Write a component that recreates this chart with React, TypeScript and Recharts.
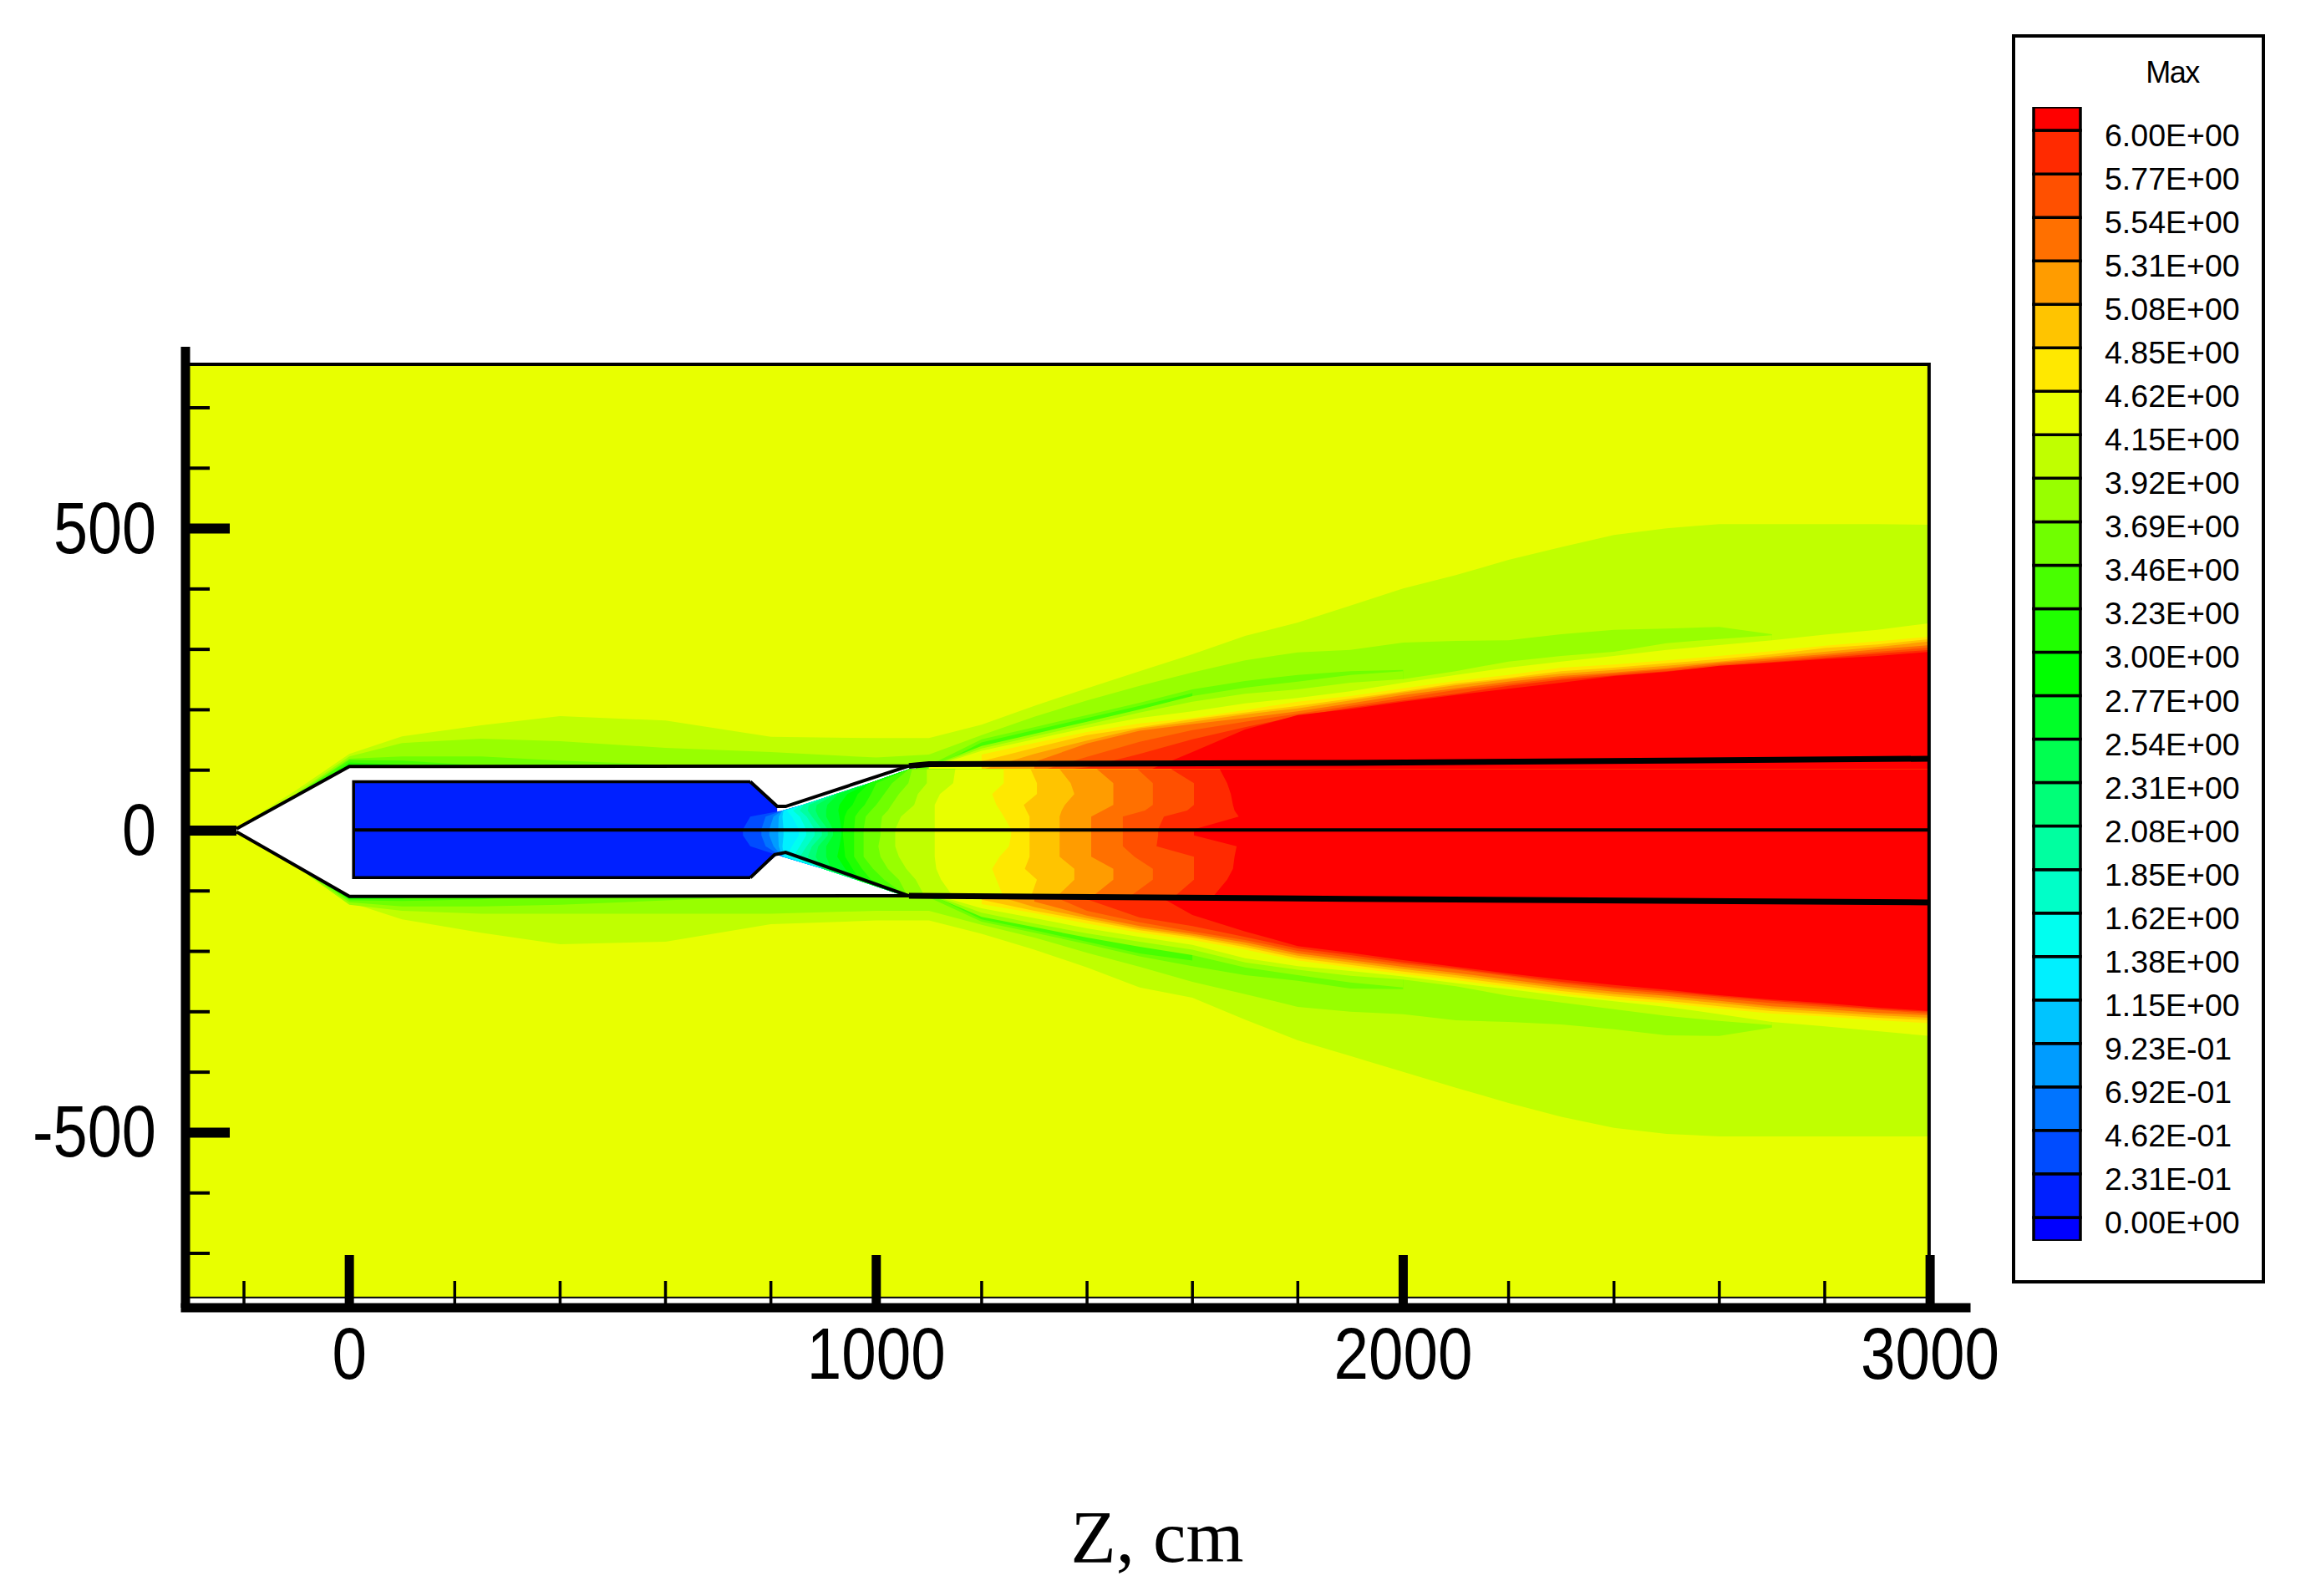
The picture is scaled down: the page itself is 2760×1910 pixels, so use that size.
import { Area, Bar, ComposedChart, Line, XAxis, YAxis } from "recharts";

const FONT = "'Liberation Sans', Arial, sans-serif";
const W = 2760;
const H = 1910;

// axis ticks
const zTicks = [-200, 0, 200, 400, 600, 800, 1000, 1200, 1400, 1600, 1800, 2000, 2200, 2400, 2600, 2800, 3000];
const zMajor = [0, 1000, 2000, 3000];
const rTicks = [700, 600, 500, 400, 300, 200, 100, 0, -100, -200, -300, -400, -500, -600, -700];
const rMajor = [500, 0, -500];

// legend, top to bottom
const levelLabels = [
  "6.00E+00", "5.77E+00", "5.54E+00", "5.31E+00", "5.08E+00", "4.85E+00", "4.62E+00", "4.15E+00", "3.92E+00",
  "3.69E+00", "3.46E+00", "3.23E+00", "3.00E+00", "2.77E+00", "2.54E+00", "2.31E+00", "2.08E+00", "1.85E+00",
  "1.62E+00", "1.38E+00", "1.15E+00", "9.23E-01", "6.92E-01", "4.62E-01", "2.31E-01", "0.00E+00",
];
const levelColors = [
  "#FF0000", "#FF2A00", "#FF5000", "#FF7000", "#FF9C00", "#FFC400", "#FFE800", "#E8FF00", "#C0FF00",
  "#98FF00", "#70FF00", "#48FF00", "#20FF00", "#00FF00", "#00FF28", "#00FF50", "#00FF78", "#00FFA0",
  "#00FFC8", "#00FFF0", "#00F0FF", "#00C4FF", "#009CFF", "#0074FF", "#004CFF", "#0020FF", "#0000FF",
];
const levelSizes = [0.54, ...levelLabels.slice(1).map(() => 1), 0.54];

// stations along the axis, outside the tube
const nearZ = [-200, -100, 0, 100, 250, 400, 600, 800, 1000, 1100, 1200, 1300, 1400, 1500, 1600, 1700, 1800, 1900, 2000, 2100, 2200, 2300, 2400, 2500, 2600, 2700, 2800, 2900, 3000];
const from100 = nearZ.slice(1);
const jetZ = nearZ.slice(9);
const jet1200 = nearZ.slice(10);
const jet1300 = nearZ.slice(11);
const jet1500 = nearZ.slice(13);

// contour edges outside the tube
const c0Up = [12, 67, 126, 155, 173, 188, 181, 154, 152, 152, 174, 205, 234, 262, 290, 320, 342, 370, 398, 420, 445, 466, 486, 497, 504, 504, 504, 504, 503];
const c0Lo = [-4, -56, -118, -146, -168, -187, -183, -154, -148, -148, -170, -196, -225, -258, -275, -311, -345, -371, -397, -423, -448, -471, -489, -499, -503, -503, -503, -503, -503];
const g98Up = [62, 122, 144, 151, 147, 136, 129, 120, 125, 157, 187, 214, 238, 260, 280, 293, 297, 309, 312, 313, 323, 330, 332, 335, 323];
const g98Lo = [-60, -122, -132, -137, -137, -137, -137, -132, -132, -155, -176, -201, -224, -249, -269, -290, -298, -302, -312, -315, -319, -327, -337, -338, -324];
const g70Up = [60, 118, 122, 122, 115, 108, 104, 100, 107, 150, 170, 190, 210, 232, 246, 256, 262, 264];
const g70Lo = [-59, -118, -125, -125, -122, -115, -108, -104, -110, -150, -168, -187, -207, -223, -238, -247, -260, -261];
const g48Up = [59, 116, 115, 107, 100, 100, 100, 100, 100, 145, 165, 185, 205, 226];
const g48Lo = [-58, -115, -116, -113, -104, -104, -104, -104, -104, -146, -164, -183, -202, -214];
const wakeZ = [-60, 0, 100, 180];
const wakeUp = [78, 112, 108, 100];
const wakeLo = [-79, -113, -112, -104];
const in98Up = [105, 139, 159, 179, 199, 221, 235, 245, 256, 262];
const in98Lo = [-105, -142, -159, -176, -191, -205, -225, -238, -250, -258];
const inC0Up = [104, 135, 155, 174, 194, 212, 225, 232, 243, 249, 262, 278, 287, 294, 308, 315, 321];
const inC0Lo = [-104, -135, -153, -169, -183, -196, -217, -229, -239, -245, -256, -272, -283, -294, -305, -313, -320];
const e8Up = [103, 131, 150, 169, 185, 196, 209, 218, 229, 243, 256, 268, 278, 287, 297, 305, 313, 322, 330, 341];
const e8Lo = [-103, -128, -144, -161, -175, -188, -210, -223, -231, -240, -251, -261, -272, -281, -290, -302, -315, -322, -330, -338];
const ffe8Up = [125, 144, 162, 176, 185, 198, 212, 221, 234, 246, 256, 268, 273, 280, 287, 295, 304, 311, 319];
const ffe8Lo = [-121, -136, -153, -168, -180, -196, -214, -225, -236, -246, -257, -268, -278, -284, -293, -301, -306, -312, -317];
const ffc4Up = [114, 136, 157, 170, 183, 194, 205, 217, 229, 242, 251, 262, 268, 275, 282, 290, 300, 306, 315];
const ffc4Lo = [-114, -132, -148, -164, -176, -192, -210, -221, -232, -242, -253, -264, -273, -280, -289, -297, -302, -308, -312];
const ff9cUp = [100, 126, 148, 168, 179, 191, 201, 214, 227, 239, 249, 258, 264, 271, 278, 286, 294, 302, 311];
const ff9cLo = [-100, -126, -144, -161, -173, -188, -206, -217, -228, -238, -249, -260, -269, -276, -284, -293, -298, -304, -308];
const ff70Up = [113, 143, 164, 175, 185, 196, 209, 223, 234, 245, 254, 260, 267, 276, 283, 290, 298, 305];
const ff70Lo = [-117, -140, -157, -170, -184, -202, -213, -224, -234, -245, -256, -265, -272, -280, -289, -294, -300, -304];
const ff50Up = [95, 121, 146, 165, 179, 192, 205, 218, 231, 241, 251, 258, 265, 273, 280, 287, 294, 301];
const ff50Lo = [-95, -132, -151, -166, -180, -198, -209, -220, -229, -240, -252, -261, -268, -276, -284, -290, -295, -301];
const ff2aUp = [95, 104, 126, 150, 170, 188, 202, 214, 225, 238, 248, 255, 262, 270, 277, 284, 291, 297];
const ff2aLo = [-95, -113, -143, -157, -175, -194, -205, -217, -227, -238, -249, -258, -265, -273, -280, -287, -294, -298];
const ff00Up = [93, 129, 166, 190, 200, 212, 223, 233, 243, 254, 261, 271, 276, 282, 287, 294];
const ff00Lo = [-90, -139, -166, -190, -201, -213, -224, -235, -245, -254, -262, -271, -278, -284, -291, -297];

// solid parts
const bodyZ = [-214, 0, 1075];
const bodyUp = [3, 105, 105];
const bodyLo = [-2, -108, -108];
const chamberZ = [8, 761, 812];
const chamberUp = [80, 80, 40];
const chamberLo = [-77, -77, -40];

// contours inside the tube: where each colour starts, for each radius
const coreR = [107, 78, 60, 40, 23, 5, -5, -26, -36, -45, -63, -81, -104];
const coreStarts: [string, number[]][] = [
  ["#004CFF", [1062, 962, 899, 822, 761, 747, 747, 761, 822, 860, 923, 987, 1062]],
  ["#0074FF", [1062, 962, 899, 822, 790, 782, 782, 790, 822, 860, 923, 987, 1062]],
  ["#009CFF", [1062, 962, 899, 822, 805, 797, 797, 805, 822, 860, 923, 987, 1062]],
  ["#00C4FF", [1062, 962, 899, 822, 815, 814, 814, 815, 822, 860, 923, 987, 1062]],
  ["#00F0FF", [1062, 962, 899, 824, 822, 824, 824, 822, 824, 860, 923, 987, 1062]],
  ["#00FFF0", [1062, 962, 899, 830, 840, 853, 853, 840, 830, 860, 923, 987, 1062]],
  ["#00FFC8", [1062, 962, 899, 842, 855, 867, 867, 855, 842, 860, 923, 987, 1062]],
  ["#00FFA0", [1062, 962, 899, 855, 868, 883, 883, 868, 855, 862, 923, 987, 1062]],
  ["#00FF78", [1062, 962, 899, 870, 878, 897, 897, 878, 870, 872, 923, 987, 1062]],
  ["#00FF50", [1062, 962, 899, 885, 890, 908, 908, 890, 885, 887, 923, 987, 1062]],
  ["#00FF28", [1062, 962, 915, 905, 905, 918, 918, 905, 905, 907, 928, 987, 1062]],
  ["#00FF00", [1062, 962, 941, 926, 930, 934, 934, 930, 928, 930, 945, 987, 1062]],
  ["#20FF00", [1062, 969, 955, 941, 939, 937, 937, 940, 945, 955, 965, 987, 1062]],
  ["#48FF00", [1062, 990, 973, 958, 958, 958, 958, 960, 968, 978, 990, 1000, 1062]],
  ["#70FF00", [1062, 1015, 994, 976, 976, 976, 976, 980, 990, 1000, 1015, 1030, 1062]],
  ["#98FF00", [1061, 1043, 1022, 1008, 1004, 1008, 1008, 1011, 1022, 1029, 1043, 1061, 1068]],
  ["#C0FF00", [1093, 1075, 1057, 1043, 1036, 1036, 1036, 1047, 1060, 1072, 1079, 1096, 1096]],
  ["#E8FF00", [1147, 1123, 1114, 1111, 1111, 1111, 1111, 1111, 1111, 1111, 1121, 1146, 1150]],
  ["#FFE800", [1242, 1228, 1220, 1234, 1252, 1256, 1256, 1242, 1235, 1228, 1220, 1242, 1242]],
  ["#FFC400", [1293, 1305, 1282, 1291, 1291, 1291, 1291, 1291, 1285, 1280, 1305, 1305, 1293]],
  ["#FF9C00", [1341, 1376, 1376, 1348, 1348, 1348, 1348, 1348, 1352, 1358, 1376, 1369, 1348]],
  ["#FF7000", [1408, 1450, 1450, 1408, 1408, 1408, 1408, 1408, 1430, 1450, 1450, 1450, 1419]],
  ["#FF5000", [1479, 1525, 1525, 1490, 1468, 1468, 1468, 1468, 1510, 1525, 1525, 1525, 1496]],
  ["#FF2A00", [1564, 1603, 1603, 1603, 1532, 1535, 1535, 1546, 1590, 1603, 1603, 1603, 1560]],
  ["#FF0000", [1638, 1666, 1677, 1680, 1684, 1603, 1603, 1688, 1680, 1677, 1673, 1666, 1652]],
];

// outlines
const outlines: { z: number[]; r: number[]; w: number }[] = [
  { z: [-214, 0, 1062], r: [3, 106, 107], w: 4 },
  { z: [-214, 0, 1062], r: [-2, -109, -108], w: 4 },
  { z: [761, 812, 828, 1062], r: [81, 40, 40, 107], w: 4 },
  { z: [761, 807, 828, 1062], r: [-78, -40, -36, -108], w: 4 },
  { z: [1062, 1100, 1900, 2998], r: [107, 110, 112, 119], w: 7 },
  { z: [1062, 1900, 2998], r: [-108, -113, -119], w: 7 },
  { z: [8, 2998], r: [1, 1], w: 4 },
  { z: [761, 8, 8, 761], r: [81, 81, -78, -78], w: 3.5 },
  { z: [-311, 2998, 2998], r: [772, 772, -773], w: 4 },
  { z: [-311, 2998], r: [-773, -773], w: 2 },
];

const band = (zs: number[], up: number[], lo: number[]) =>
  up.map((u, i) => ({ z: zs[i], range: [lo[i], u] }));

const outerBands = [
  { color: "#E8FF00", data: band([-311, 3000], [764, 764], [-767, -767]) },
  { color: "#C0FF00", data: band(nearZ, c0Up, c0Lo) },
  { color: "#98FF00", data: band(from100, g98Up, g98Lo) },
  { color: "#70FF00", data: band(from100, g70Up, g70Lo) },
  { color: "#48FF00", data: band(from100, g48Up, g48Lo) },
  { color: "#20FF00", data: band(wakeZ, wakeUp, wakeLo) },
  { color: "#98FF00", data: band(jetZ, in98Up, in98Lo) },
  { color: "#C0FF00", data: band(jetZ, inC0Up, inC0Lo) },
  { color: "#E8FF00", data: band(jetZ, e8Up, e8Lo) },
  { color: "#FFE800", data: band(jet1200, ffe8Up, ffe8Lo) },
  { color: "#FFC400", data: band(jet1200, ffc4Up, ffc4Lo) },
  { color: "#FF9C00", data: band(jet1200, ff9cUp, ff9cLo) },
  { color: "#FF7000", data: band(jet1300, ff70Up, ff70Lo) },
  { color: "#FF5000", data: band(jet1300, ff50Up, ff50Lo) },
  { color: "#FF2A00", data: band(jet1300, ff2aUp, ff2aLo) },
  { color: "#FF0000", data: band(jet1500, ff00Up, ff00Lo) },
  { color: "#FFFFFF", data: band(bodyZ, bodyUp, bodyLo) },
  { color: "#0020FF", data: band(chamberZ, chamberUp, chamberLo) },
];

const coreTable = coreR.map((r, i) => {
  const row: any = { r };
  coreStarts.forEach(([, starts], k) => {
    row[`c${k}`] = [starts[i], 3000];
  });
  return row;
});

const legendRow: any = { name: "levels" };
levelSizes.forEach((s, i) => {
  legendRow[`b${i}`] = s;
});
const legendBars = levelColors.map((c, i) => ({ key: `b${i}`, color: levelColors[levelColors.length - 1 - i] }));
const legendTicks = levelLabels.map((_, i) => 0.54 + i);
const bottomUpLabels = [...levelLabels].reverse();

const stack: any = { position: "absolute", left: 0, top: 0 };
const plotMargin = { left: 222, top: 438, right: W - 2310, bottom: H - 1552 };
// axes keep 1px of room, so the margins are 1px smaller
const frameMargin = { left: 221, top: 415, right: W - 2353, bottom: H - 1565 - 1 };

const ZTick = ({ x, y, payload }: any) => {
  const major = zMajor.includes(payload.value);
  const s = String(payload.value);
  return (
    <g>
      <line x1={x} x2={x} y1={y} y2={y - (major ? 63 : 32)} stroke="#000" strokeWidth={major ? 11 : 3.5} />
      {major && (
        <text x={x} y={y + 85} textAnchor="middle" fontFamily={FONT} fontSize={88} fill="#000"
          textLength={s.length * 41.5} lengthAdjust="spacingAndGlyphs">
          {s}
        </text>
      )}
    </g>
  );
};

const RTick = ({ x, y, payload }: any) => {
  const major = rMajor.includes(payload.value);
  const s = String(payload.value);
  const len = payload.value === 0 ? 61 : major ? 53 : 29;
  return (
    <g>
      <line x1={x} x2={x + len} y1={y} y2={y} stroke="#000" strokeWidth={major ? 12 : 4} />
      {major && (
        <text x={187} y={y + 29} textAnchor="end" fontFamily={FONT} fontSize={88} fill="#000"
          textLength={s.replace("-", "").length * 41 + (s.startsWith("-") ? 25 : 0)} lengthAdjust="spacingAndGlyphs">
          {s}
        </text>
      )}
    </g>
  );
};

const LegendTick = ({ y, index }: any) => (
  <text x={2519} y={y + 19} fontFamily={FONT} fontSize={37.5} fill="#000">
    {bottomUpLabels[index]}
  </text>
);

const AxisTitle = () => (
  <text x={1385} y={1869} textAnchor="middle" fontFamily="'Liberation Serif', serif" fontSize={88} fill="#000"
    textLength={207} lengthAdjust="spacingAndGlyphs">
    Z, cm
  </text>
);

export default function App() {
  return (
    <div style={{ position: "relative", width: W, height: H, margin: -8, background: "#fff", overflow: "hidden" }}>
      {/* field outside the tube */}
      <ComposedChart width={W} height={H} margin={plotMargin} style={stack}>
        <XAxis hide type="number" dataKey="z" domain={[-311, 3000]} allowDataOverflow />
        <YAxis hide type="number" domain={[-767, 764]} allowDataOverflow />
        {outerBands.map((b, i) => (
          <Area key={i} data={b.data} dataKey="range" type="linear" fill={b.color} fillOpacity={1} stroke="none" isAnimationActive={false} />
        ))}
      </ComposedChart>

      {/* field inside the tube, contours run across the axis */}
      <ComposedChart width={W} height={H} margin={plotMargin} layout="vertical" data={coreTable} style={stack}>
        <XAxis hide type="number" domain={[-311, 3000]} allowDataOverflow />
        <YAxis hide type="number" dataKey="r" domain={[-767, 764]} allowDataOverflow />
        {coreStarts.map(([color], k) => (
          <Area key={k} dataKey={`c${k}`} type="linear" fill={color} fillOpacity={1} stroke="none" isAnimationActive={false} />
        ))}
      </ComposedChart>

      {/* outlines and axes */}
      <ComposedChart width={W} height={H} margin={frameMargin} style={stack}>
        <XAxis
          type="number"
          dataKey="z"
          domain={[-311, 3068]}
          allowDataOverflow
          ticks={zTicks}
          interval={0}
          height={1}
          tickSize={0}
          tickMargin={0}
          tickLine={false}
          axisLine={{ stroke: "#000", strokeWidth: 11, strokeLinecap: "square" }}
          tick={(p: any) => <ZTick {...p} />}
          label={{ content: () => <AxisTitle /> }}
        />
        <YAxis
          type="number"
          domain={[-790, 801]}
          allowDataOverflow
          ticks={rTicks}
          interval={0}
          width={1}
          tickSize={0}
          tickMargin={0}
          tickLine={false}
          axisLine={{ stroke: "#000", strokeWidth: 11 }}
          tick={(p: any) => <RTick {...p} />}
        />
        {outlines.map((o, i) => (
          <Line
            key={i}
            data={o.z.map((z, j) => ({ z, r: o.r[j] }))}
            dataKey="r"
            type="linear"
            stroke="#000"
            strokeWidth={o.w}
            dot={false}
            isAnimationActive={false}
          />
        ))}
      </ComposedChart>

      {/* legend */}
      <div style={{ position: "absolute", left: 2408, top: 41, width: 295, height: 1487, border: "4px solid #000" }} />
      <div style={{ position: "absolute", left: 2500, width: 200, top: 65, textAlign: "center", fontFamily: FONT, fontSize: 36, lineHeight: "44px", letterSpacing: -1.5, color: "#000" }}>
        Max
      </div>
      <ComposedChart
        width={W}
        height={H}
        margin={{ left: 2434, top: 128, right: W - 2490 - 1, bottom: H - 1485 }}
        data={[legendRow]}
        barCategoryGap={0}
        style={stack}
      >
        <XAxis hide dataKey="name" type="category" />
        <YAxis
          orientation="right"
          type="number"
          domain={[0, 26.08]}
          allowDataOverflow
          ticks={legendTicks}
          interval={0}
          width={1}
          tickSize={0}
          tickLine={false}
          axisLine={false}
          tick={(p: any) => <LegendTick {...p} />}
        />
        {legendBars.map((b) => (
          <Bar key={b.key} dataKey={b.key} stackId="levels" fill={b.color} stroke="#000" strokeWidth={3.5} isAnimationActive={false} />
        ))}
      </ComposedChart>
    </div>
  );
}
